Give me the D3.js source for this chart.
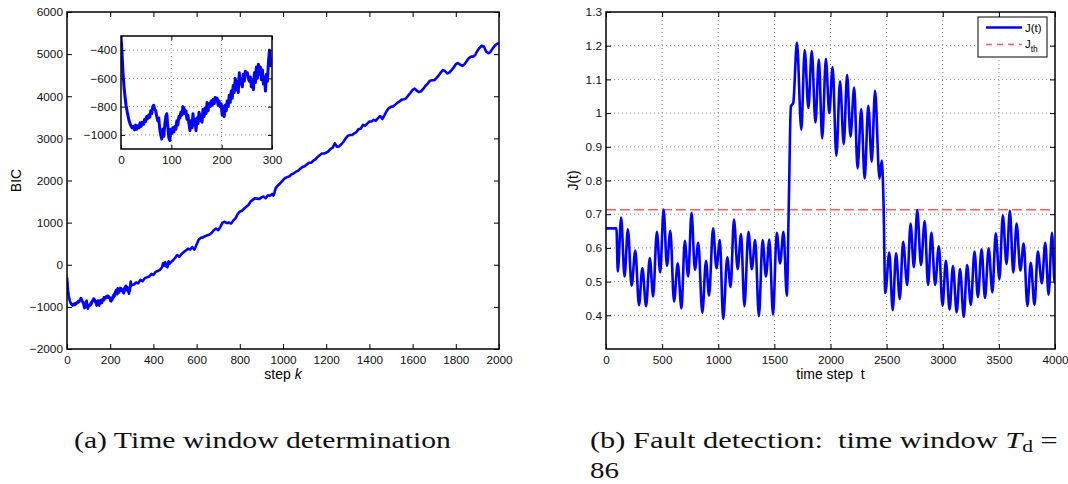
<!DOCTYPE html>
<html>
<head>
<meta charset="utf-8">
<script src="https://cdn.jsdelivr.net/npm/d3@7"></script>
<style>
  body { margin: 0; background: #fff; }
  svg { display: block; }
</style>
</head>
<body>
<svg id="fig" width="1068" height="484"></svg>
<script>
// ---- data ----
// (a) BIC against step k, [k, BIC]
var bicData = [
  [0,-300],[2,-420],[4,-560],[6,-660],[8,-730],[10,-790],[13,-850],[16,-900],[19,-930],[22,-950],
  [25,-940],[27,-965],[29,-930],[31,-960],[33,-935],[36,-950],[38,-915],[40,-940],[42,-910],[45,-925],
  [47,-890],[49,-905],[51,-870],[53,-885],[55,-860],[57,-875],[59,-830],[61,-850],[63,-800],[65,-790],
  [67,-820],[69,-830],[71,-870],[73,-900],[75,-880],[77,-960],[79,-1000],[81,-1030],[83,-960],[85,-1010],
  [87,-930],[89,-870],[91,-850],[93,-940],[95,-1020],[97,-1040],[99,-960],[101,-990],[103,-950],[105,-980],
  [107,-940],[109,-960],[111,-900],[113,-930],[115,-870],[117,-880],[119,-840],[121,-860],[123,-800],[125,-810],
  [127,-850],[129,-830],[131,-890],[133,-860],[135,-920],[137,-970],[139,-900],[141,-950],[143,-850],[145,-930],
  [147,-890],[149,-970],[151,-880],[153,-920],[155,-840],[157,-900],[159,-860],[161,-910],[163,-820],[165,-870],
  [167,-810],[169,-850],[171,-770],[173,-830],[175,-780],[177,-800],[179,-760],[181,-790],[183,-750],[185,-780],
  [187,-735],[189,-760],[191,-740],[193,-790],[195,-760],[197,-800],[199,-780],[201,-860],[203,-800],[205,-870],
  [207,-790],[209,-830],[211,-760],[213,-800],[215,-720],[217,-770],[219,-690],[221,-740],[223,-650],[225,-700],
  [227,-600],[229,-680],[231,-620],[233,-700],[235,-560],[237,-640],[239,-600],[241,-660],[243,-570],[245,-620],
  [247,-550],[249,-570],[251,-560],[253,-600],[255,-620],[257,-590],[259,-660],[261,-610],[263,-680],[265,-560],
  [267,-630],[269,-520],[271,-600],[273,-500],[275,-570],[277,-520],[279,-610],[281,-540],[283,-640],[285,-590],
  [287,-690],[289,-570],[291,-620],[293,-480],[295,-400],[297,-510],[299,-470],[300,-480],
  [310,-470],[320,-420],[330,-440],[340,-360],[350,-390],[360,-320],[370,-300],[380,-280],[390,-220],[400,-240],
  [410,-170],[420,-150],[430,-120],[440,-60],[445,40],[450,-20],[455,60],[460,-40],[465,-60],[470,80],
  [475,20],[480,60],[490,100],[500,160],[510,230],[520,190],[530,250],[540,300],[550,340],[560,380],
  [570,360],[580,420],[590,360],[600,480],[610,600],[620,640],[630,650],[640,680],[650,700],[660,720],
  [670,760],[680,820],[690,860],[700,820],[710,900],[720,1000],[730,1020],[740,990],[750,1000],[760,980],
  [770,1050],[780,1100],[790,1200],[800,1260],[810,1280],[820,1330],[830,1380],[840,1420],[850,1500],[860,1540],
  [870,1580],[880,1570],[890,1560],[900,1600],[910,1620],[920,1580],[930,1650],[940,1640],[950,1680],[955,1640],
  [960,1700],[965,1800],[970,1850],[980,1900],[990,1950],[1000,2010],[1010,2060],[1020,2080],[1030,2100],[1040,2150],
  [1050,2170],[1060,2210],[1070,2230],[1080,2280],[1090,2320],[1100,2340],[1110,2380],[1120,2420],[1130,2420],[1140,2470],
  [1150,2500],[1160,2560],[1170,2600],[1180,2640],[1190,2640],[1200,2660],[1210,2690],[1220,2750],[1230,2780],[1240,2880],
  [1250,2800],[1260,2810],[1270,2860],[1280,2920],[1290,3000],[1300,3060],[1310,3080],[1320,3080],[1330,3120],[1340,3150],
  [1350,3220],[1360,3230],[1370,3320],[1380,3300],[1390,3350],[1400,3400],[1410,3400],[1420,3440],[1430,3420],[1440,3480],
  [1450,3530],[1460,3460],[1470,3550],[1480,3650],[1490,3720],[1500,3750],[1510,3760],[1520,3800],[1530,3850],[1540,3880],
  [1550,3920],[1560,3930],[1570,3950],[1580,4020],[1590,4080],[1600,4150],[1610,4180],[1620,4130],[1630,4100],[1640,4120],
  [1650,4180],[1660,4250],[1670,4300],[1680,4370],[1690,4380],[1700,4380],[1710,4430],[1720,4490],[1730,4560],[1740,4620],
  [1750,4600],[1760,4540],[1770,4560],[1780,4620],[1790,4680],[1800,4760],[1810,4790],[1820,4750],[1830,4720],[1840,4760],
  [1850,4830],[1860,4900],[1870,4940],[1880,4940],[1890,4980],[1900,5080],[1910,5150],[1920,5200],[1930,5180],[1940,5060],
  [1950,5020],[1960,5050],[1970,5130],[1980,5200],[1990,5240],[2000,5260]
];

// (b) J(t) peaks and troughs, [t, J]
var jData = [
  [0,0.658],[93,0.658],[105,0.53],[135,0.69],[165,0.515],[195,0.655],[228,0.488],[261,0.592],[294,0.43],[324,0.54],
  [357,0.427],[390,0.57],[420,0.456],[453,0.648],[483,0.527],[513,0.714],[543,0.547],[573,0.651],[606,0.441],[639,0.554],
  [672,0.42],[702,0.621],[732,0.515],[762,0.704],[792,0.535],[822,0.615],[858,0.407],[891,0.562],[918,0.458],[954,0.658],
  [984,0.54],[1014,0.623],[1044,0.389],[1080,0.572],[1110,0.484],[1140,0.684],[1173,0.537],[1203,0.641],[1233,0.427],[1269,0.648],
  [1299,0.537],[1329,0.623],[1362,0.397],[1395,0.623],[1425,0.515],[1455,0.625],[1488,0.402],[1521,0.645],[1551,0.554],[1581,0.648],
  [1611,0.458],[1629,0.74],[1647,1.02],[1668,1.03],[1701,1.209],[1740,0.95],[1770,1.187],[1803,1.015],[1833,1.184],[1866,0.972],
  [1896,1.159],[1926,0.925],[1959,1.161],[1989,1.0],[2019,1.137],[2052,0.873],[2085,1.094],[2118,0.908],[2148,1.114],[2178,0.93],
  [2211,1.076],[2241,0.836],[2274,1.012],[2304,0.806],[2337,1.022],[2367,0.856],[2397,1.067],[2436,0.806],[2457,0.859],[2472,0.74],
  [2488,0.466],[2524,0.586],[2554,0.415],[2584,0.584],[2617,0.448],[2647,0.618],[2683,0.49],[2713,0.672],[2743,0.543],[2773,0.712],
  [2806,0.549],[2839,0.68],[2869,0.49],[2899,0.645],[2932,0.49],[2965,0.605],[2998,0.428],[3028,0.562],[3061,0.417],[3091,0.546],
  [3124,0.409],[3154,0.537],[3187,0.395],[3217,0.549],[3250,0.431],[3283,0.589],[3313,0.454],[3346,0.596],[3376,0.451],[3409,0.599],
  [3442,0.468],[3472,0.643],[3505,0.507],[3535,0.697],[3568,0.552],[3598,0.71],[3628,0.527],[3658,0.672],[3691,0.533],[3721,0.613],
  [3754,0.428],[3784,0.556],[3817,0.431],[3847,0.589],[3883,0.495],[3913,0.615],[3943,0.461],[3973,0.645],[3997,0.497],[4000,0.5]
];
var jThreshold = 0.713;

// tick values
var stepTicks = [0,200,400,600,800,1000,1200,1400,1600,1800,2000];
var bicTicks = [-2000,-1000,0,1000,2000,3000,4000,5000,6000];
var insetStepTicks = [0,100,200,300];
var insetBicTicks = [-1000,-800,-600,-400];
var timeTicks = [0,500,1000,1500,2000,2500,3000,3500,4000];
var jTicks = [0.4,0.5,0.6,0.7,0.8,0.9,1.0,1.1,1.2,1.3];

var sans = '"Liberation Sans", Arial, Helvetica, sans-serif';
var serif = '"Liberation Serif", "Times New Roman", serif';
var svg = d3.select("#fig");

// ---- layout ----
var pa = {left: 67, right: 499, top: 12, bottom: 349};
var pi = {left: 121, right: 272, top: 36, bottom: 149};
var pb = {left: 606, right: 1055, top: 12, bottom: 349};

var xA = d3.scaleLinear().domain([0, 2000]).range([pa.left, pa.right]);
var yA = d3.scaleLinear().domain([-2000, 6000]).range([pa.bottom, pa.top]);
var xI = d3.scaleLinear().domain([0, 300]).range([pi.left, pi.right]);
var yI = d3.scaleLinear().domain([-1100, -300]).range([pi.bottom, pi.top]);
var xB = d3.scaleLinear().domain([0, 4000]).range([pb.left, pb.right]);
var yB = d3.scaleLinear().domain([0.3, 1.3]).range([pb.bottom, pb.top]);

var fmtInt = d3.format("d");
var fmtJ = function(d) { return String(+d.toFixed(1)); };

function drawGrid(p, x, y, gx, gy) {
  var g = svg.append("g");
  g.selectAll("line.gx").data(gx).enter().append("line")
    .attr("x1", x).attr("x2", x).attr("y1", p.top).attr("y2", p.bottom);
  g.selectAll("line.gy").data(gy).enter().append("line")
    .attr("y1", y).attr("y2", y).attr("x1", p.left).attr("x2", p.right);
  g.selectAll("line").attr("stroke", "#8a8a8a").attr("stroke-width", 1)
    .attr("stroke-dasharray", "1,3");
}

function drawFrame(p, x, y, xt, yt, fx, fy, tl, padX, padY) {
  var g = svg.append("g");
  var tidy = function(s) {
    s.select(".domain").remove();
    s.selectAll("line").attr("stroke", "#000").attr("stroke-width", 1);
    s.selectAll("text").style("font-family", sans).style("font-size", "11.8px").attr("fill", "#111");
  };
  g.append("g").attr("transform", "translate(0," + p.bottom + ")")
    .call(d3.axisBottom(x).tickValues(xt).tickSizeInner(-tl).tickSizeOuter(0).tickPadding(padX).tickFormat(fx))
    .call(tidy);
  g.append("g").attr("transform", "translate(0," + p.top + ")")
    .call(d3.axisTop(x).tickValues(xt).tickSizeInner(-tl).tickSizeOuter(0).tickFormat(""))
    .call(tidy);
  g.append("g").attr("transform", "translate(" + p.left + ",0)")
    .call(d3.axisLeft(y).tickValues(yt).tickSizeInner(-tl).tickSizeOuter(0).tickPadding(padY).tickFormat(fy))
    .call(tidy);
  g.append("g").attr("transform", "translate(" + p.right + ",0)")
    .call(d3.axisRight(y).tickValues(yt).tickSizeInner(-tl).tickSizeOuter(0).tickFormat(""))
    .call(tidy);
  g.append("rect").attr("x", p.left).attr("y", p.top)
    .attr("width", p.right - p.left).attr("height", p.bottom - p.top)
    .attr("fill", "none").attr("stroke", "#000").attr("stroke-width", 1.5);
}

function clipFor(id, p) {
  svg.append("clipPath").attr("id", id).append("rect")
    .attr("x", p.left).attr("y", p.top)
    .attr("width", p.right - p.left).attr("height", p.bottom - p.top);
  return "url(#" + id + ")";
}

// ---- (a) BIC ----
var lineA = d3.line().x(function(d) { return xA(d[0]); }).y(function(d) { return yA(d[1]); });
svg.append("path").datum(bicData)
  .attr("clip-path", clipFor("clipA", pa))
  .attr("d", lineA).attr("fill", "none").attr("stroke", "#0000ff")
  .attr("stroke-width", 2.6).attr("stroke-linejoin", "round");
drawFrame(pa, xA, yA, stepTicks, bicTicks, fmtInt, fmtInt, 5, 7, 4);

svg.append("text").attr("transform", "translate(21," + ((pa.top + pa.bottom) / 2) + ") rotate(-90)")
  .attr("text-anchor", "middle").style("font-family", sans).style("font-size", "14px")
  .text("BIC");
var xlA = svg.append("text").attr("x", (pa.left + pa.right) / 2).attr("y", 379)
  .attr("text-anchor", "middle").style("font-family", sans).style("font-size", "14px");
xlA.append("tspan").text("step ");
xlA.append("tspan").style("font-style", "italic").text("k");

// inset
svg.append("rect").attr("x", pi.left).attr("y", pi.top)
  .attr("width", pi.right - pi.left).attr("height", pi.bottom - pi.top).attr("fill", "#fff");
drawGrid(pi, xI, yI, [100, 200], insetBicTicks);
var lineI = d3.line().x(function(d) { return xI(d[0]); }).y(function(d) { return yI(d[1]); });
svg.append("path").datum(bicData.filter(function(d) { return d[0] <= 300; }))
  .attr("clip-path", clipFor("clipI", pi))
  .attr("d", lineI).attr("fill", "none").attr("stroke", "#0000ff")
  .attr("stroke-width", 3).attr("stroke-linejoin", "round");
drawFrame(pi, xI, yI, insetStepTicks, insetBicTicks, fmtInt, fmtInt, 4, 7, 4);

// ---- (b) J(t) ----
drawGrid(pb, xB, yB, timeTicks.slice(1, -1), jTicks.slice(0, -1));
svg.append("line").attr("x1", xB(0)).attr("x2", xB(4000))
  .attr("y1", yB(jThreshold)).attr("y2", yB(jThreshold))
  .attr("stroke", "#ff5a5a").attr("stroke-width", 1.6).attr("stroke-dasharray", "10,4");
var lineB = d3.line().curve(d3.curveMonotoneX)
  .x(function(d) { return xB(d[0]); }).y(function(d) { return yB(d[1]); });
svg.append("path").datum(jData)
  .attr("clip-path", clipFor("clipB", pb))
  .attr("d", lineB).attr("fill", "none").attr("stroke", "#0000ff")
  .attr("stroke-width", 2.6).attr("stroke-linejoin", "round");
drawFrame(pb, xB, yB, timeTicks, jTicks, fmtInt, fmtJ, 5, 7, 4);

svg.append("text").attr("transform", "translate(578," + ((pb.top + pb.bottom) / 2) + ") rotate(-90)")
  .attr("text-anchor", "middle").style("font-family", sans).style("font-size", "14px")
  .text("J(t)");
svg.append("text").attr("x", (pb.left + pb.right) / 2).attr("y", 379)
  .attr("text-anchor", "middle").style("font-family", sans).style("font-size", "14px")
  .text("time step\u00a0 t");

// legend
var lg = svg.append("g");
lg.append("rect").attr("x", 978).attr("y", 17).attr("width", 69).attr("height", 40)
  .attr("fill", "#fff").attr("stroke", "#000").attr("stroke-width", 1);
lg.append("line").attr("x1", 986).attr("x2", 1022).attr("y1", 27.5).attr("y2", 27.5)
  .attr("stroke", "#0000ff").attr("stroke-width", 2.6);
lg.append("line").attr("x1", 986).attr("x2", 1022).attr("y1", 44.5).attr("y2", 44.5)
  .attr("stroke", "#ff5a5a").attr("stroke-width", 1.4).attr("stroke-dasharray", "6,5");
lg.append("text").attr("x", 1025).attr("y", 31.5)
  .style("font-family", sans).style("font-size", "11.5px").text("J(t)");
var lth = lg.append("text").attr("x", 1025).attr("y", 48)
  .style("font-family", sans).style("font-size", "11.5px");
lth.append("tspan").text("J");
lth.append("tspan").attr("dy", 4).style("font-size", "8.5px").text("th");

// ---- captions ----
function stretchTo(sel, x0, width) {
  var w = sel.node().getBBox().width;
  sel.attr("transform", "translate(" + x0 + ",0) scale(" + (width / w) + ",1) translate(" + (-x0) + ",0)");
}
var capA = svg.append("text").attr("x", 74).attr("y", 448)
  .style("font-family", serif).style("font-size", "24px").attr("fill", "#111")
  .text("(a) Time window determination");
stretchTo(capA, 74, 377);

var capB = svg.append("text").attr("x", 590).attr("y", 448)
  .style("font-family", serif).style("font-size", "24px").attr("fill", "#111");
capB.append("tspan").text("(b) Fault detection:\u00a0 time window ");
capB.append("tspan").style("font-style", "italic").text("T");
capB.append("tspan").attr("dy", 4).style("font-size", "17px").text("d");
capB.append("tspan").attr("dy", -4).text(" =");
stretchTo(capB, 590, 468);

var capB2 = svg.append("text").attr("x", 590).attr("y", 478)
  .style("font-family", serif).style("font-size", "24px").attr("fill", "#111")
  .text("86");
stretchTo(capB2, 590, 29);
</script>
</body>
</html>
